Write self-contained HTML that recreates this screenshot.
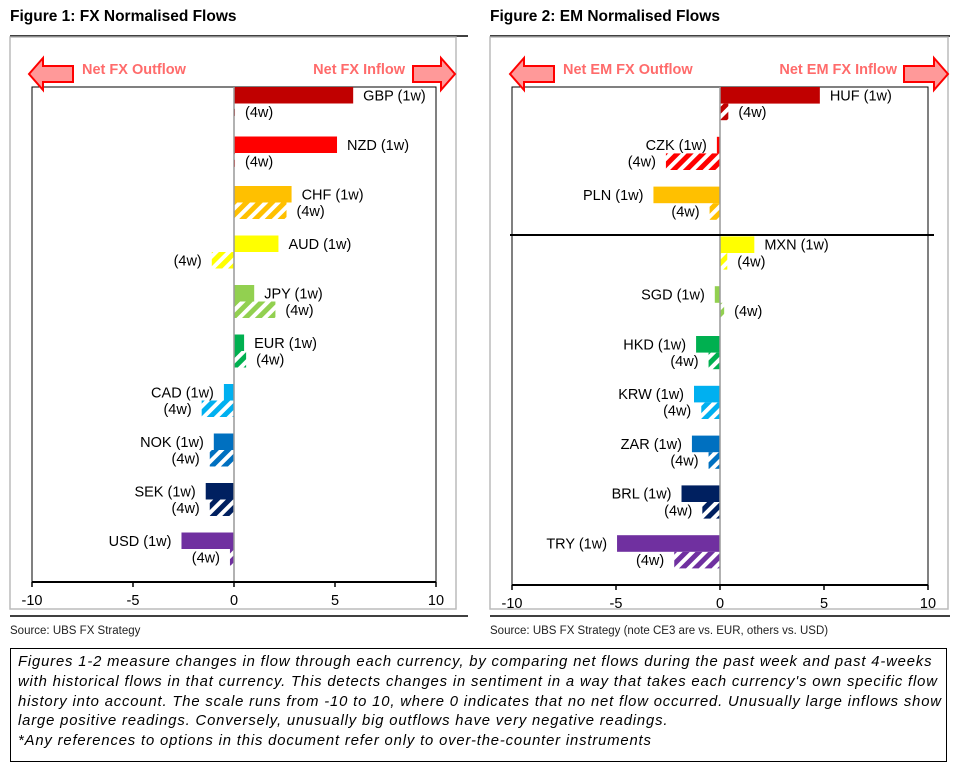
<!DOCTYPE html>
<html><head><meta charset="utf-8">
<style>
body{margin:0;background:#fff;width:971px;height:778px;overflow:hidden;font-family:"Liberation Sans",Arial,sans-serif;}
svg{position:absolute;left:0;top:0}
.note{position:absolute;left:10px;top:648px;border:1px solid #000;padding:4px 0 0 7px;font-style:italic;font-size:14.8px;letter-spacing:0.85px;line-height:19.8px;color:#000;box-sizing:border-box;width:937px;height:114px;white-space:nowrap;overflow:hidden}
</style></head>
<body>
<svg id="chart" width="971" height="778" xmlns="http://www.w3.org/2000/svg" font-family="Liberation Sans, Arial, sans-serif">
<defs>
</defs>
<text x="10" y="21" font-size="15.5" font-weight="bold">Figure 1: FX Normalised Flows</text>
<text x="490" y="21" font-size="15.5" font-weight="bold">Figure 2: EM Normalised Flows</text>
<line x1="10" y1="36" x2="468" y2="36" stroke="#000" stroke-width="1.5"/>
<line x1="490" y1="36" x2="950" y2="36" stroke="#000" stroke-width="1.5"/>
<rect x="10" y="37" width="446" height="572" fill="none" stroke="#bbb" stroke-width="1.5"/>
<rect x="490" y="37" width="458" height="572" fill="none" stroke="#bbb" stroke-width="1.5"/>
<line x1="10" y1="616" x2="468" y2="616" stroke="#000" stroke-width="1.5"/>
<line x1="490" y1="616" x2="950" y2="616" stroke="#000" stroke-width="1.5"/>
<text x="10" y="634" font-size="11.5" fill="#222">Source:  UBS FX Strategy</text>
<text x="490" y="634" font-size="11.5" fill="#222">Source:  UBS FX Strategy (note CE3 are vs. EUR, others vs. USD)</text>
<g id="g1"></g>
<g id="g2"></g>
</svg>
<div class="note">Figures 1-2 measure changes in flow through each currency, by comparing net flows during the past week and past 4-weeks<br>with historical flows in that currency. This detects changes in sentiment in a way that takes each currency's own specific flow<br>history into account. The scale runs from -10 to 10, where 0 indicates that no net flow occurred. Unusually large inflows show<br>large positive readings. Conversely, unusually big outflows have very negative readings.<br>*Any references to options in this document refer only to over-the-counter instruments</div>
<script>
const fxCategories = ["GBP","NZD","CHF","AUD","JPY","EUR","CAD","NOK","SEK","USD"];
const fxWeek1 = [5.9,5.1,2.85,2.2,1.0,0.5,-0.5,-1.0,-1.4,-2.6];
const fxWeek4 = [0.05,0.05,2.6,-1.1,2.05,0.6,-1.6,-1.2,-1.2,-0.2];
const emCategories = ["HUF","CZK","PLN","MXN","SGD","HKD","KRW","ZAR","BRL","TRY"];
const emWeek1 = [4.8,-0.15,-3.2,1.65,-0.25,-1.15,-1.25,-1.35,-1.85,-4.95];
const emWeek4 = [0.4,-2.6,-0.5,0.35,0.2,-0.55,-0.9,-0.55,-0.85,-2.2];
const tickValues = [-10,-5,0,5,10];
const tickLabels = ["-10","-5","0","5","10"];
const palette = ["#c00000","#ff0000","#ffc000","#ffff00","#92d050","#00b050","#00b0f0","#0070c0","#002060","#7030a0"];

const NS="http://www.w3.org/2000/svg";
function mk(tag,attrs,parent){const e=document.createElementNS(NS,tag);for(const k in attrs)e.setAttribute(k,attrs[k]);if(parent)parent.appendChild(e);return e;}
const defs=document.querySelector('defs');
palette.forEach((c,i)=>{
  const p=mk('pattern',{id:'hatch'+i,width:9,height:9,patternUnits:'userSpaceOnUse',patternTransform:'rotate(45)'},defs);
  mk('rect',{x:0,y:0,width:5,height:9,fill:c},p);
});

function arrow(g,x0,x1,dir,name){
  const yT=58,yB=90,bT=66,bB=82,hw=14;
  let pts;
  if(dir<0){pts=[[x0,74],[x0+hw,yT],[x0+hw,bT],[x1,bT],[x1,bB],[x0+hw,bB],[x0+hw,yB]];}
  else{pts=[[x1,74],[x1-hw,yT],[x1-hw,bT],[x0,bT],[x0,bB],[x1-hw,bB],[x1-hw,yB]];}
  const a=mk('polygon',{points:pts.map(p=>p.join(',')).join(' '),fill:'#ff9999',stroke:'#ff0000','stroke-width':2},g);
  
  
}

function drawChart(gid,cfg,cats,w1,w4){
  const g=document.getElementById(gid);
  const L=cfg.left,R=cfg.right,T=87,B=cfg.bottom;
  const x=v=>L+(v+10)/20*(R-L);
  const slot=(B-T)/cats.length;
  const bh=slot/3;
  const frame=mk('rect',{x:L,y:T,width:R-L,height:B-T,fill:'none',stroke:'#000','stroke-width':1},g);
  
  
  const hdr=cfg.labels;
  arrow(g,cfg.la[0],cfg.la[1],-1,'outflow-arrow');
  arrow(g,cfg.ra[0],cfg.ra[1],1,'inflow-arrow');
  let t=mk('text',{x:cfg.lt,y:74,'font-size':14.5,'font-weight':'bold',fill:'#ff6b6b'},g);t.textContent=hdr[0];
  
  t=mk('text',{x:cfg.rt,y:74,'font-size':14.5,'font-weight':'bold',fill:'#ff6b6b','text-anchor':'end'},g);t.textContent=hdr[1];
  
  cats.forEach((c,i)=>{
    const y0=T+i*slot;
    [[w1[i],'(1w)',c+' (1w)',palette[i]],[w4[i],'(4w)','(4w)','url(#hatch'+i+')']].forEach((d,k)=>{
      const v=d[0],yy=y0+k*bh;
      const xa=Math.min(x(0),x(v)),xb=Math.max(x(0),x(v));
      const r=mk('rect',{x:xa,y:yy,width:Math.max(xb-xa,0.8),height:bh,fill:d[3]},g);
      
      
      const tx=v>=0?xb+10:xa-10;
      const lb=mk('text',{x:tx,y:yy+bh/2+5,'font-size':14.5,'text-anchor':v>=0?'start':'end'},g);
      lb.textContent=d[2];
      
      
    });
  });
  const z=mk('line',{x1:x(0),y1:T,x2:x(0),y2:B,stroke:'#999','stroke-width':1.5},g);
  
  if(cfg.sep){const s=mk('line',{x1:cfg.sep[0],y1:cfg.sep[2],x2:cfg.sep[1],y2:cfg.sep[2],stroke:'#000','stroke-width':2},g);
    }
  const ax=mk('line',{x1:L,y1:B,x2:R,y2:B,stroke:'#000','stroke-width':2},g);
  
  tickValues.forEach((v,i)=>{
    const tk=mk('line',{x1:x(v),y1:B,x2:x(v),y2:B+5,stroke:'#000','stroke-width':1.5},g);
    
    const tl=mk('text',{x:x(v),y:B+23,'font-size':14.5,'text-anchor':'middle'},g);
    tl.textContent=tickLabels[i];
    
  });
}
drawChart('g1',{left:32,right:436,bottom:582,la:[29,73],ra:[413,455],lt:82,rt:405,labels:['Net FX Outflow','Net FX Inflow']},fxCategories,fxWeek1,fxWeek4);
drawChart('g2',{left:512,right:928,bottom:585,la:[510,554],ra:[904,948],lt:563,rt:897,labels:['Net EM FX Outflow','Net EM FX Inflow'],sep:[510,934,235]},emCategories,emWeek1,emWeek4);
</script>
</body></html>
